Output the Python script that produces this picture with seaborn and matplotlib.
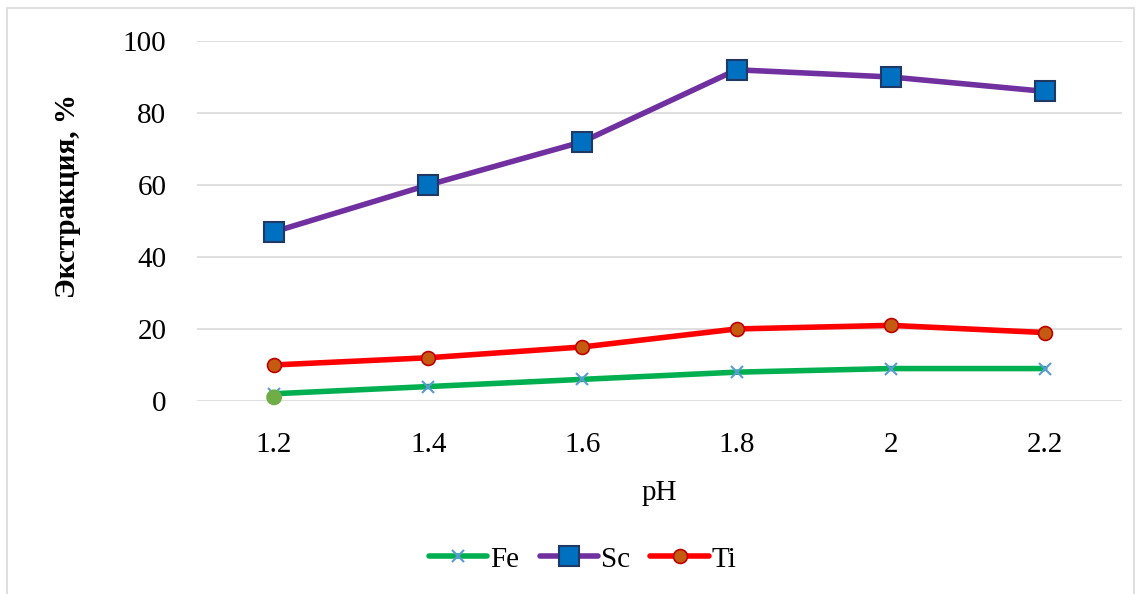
import matplotlib
matplotlib.use("Agg")
import matplotlib.pyplot as plt
import seaborn as sns
import pandas as pd
from matplotlib.patches import Rectangle

ph = ["1.2", "1.4", "1.6", "1.8", "2", "2.2"]
fe = [2, 4, 6, 8, 9, 9]
sc = [47, 60, 72, 92, 90, 86]
ti = [10, 12, 15, 20, 21, 19]
fe_special_x = ["1.2"]
fe_special_y = [1]

sns.set_theme(style="white")
plt.rcParams["font.family"] = ["Liberation Serif", "DejaVu Serif"]
plt.rcParams["text.color"] = "black"
plt.rcParams["axes.labelcolor"] = "black"

fig = plt.figure(figsize=(11.39, 5.94), dpi=100)
ax = fig.add_axes([0.173, 0.325, 0.812, 0.606])

sns.lineplot(x=ph, y=fe, ax=ax, color="#00B050", lw=4, marker="x", markersize=8,
             markeredgecolor="#5B9BD5", markeredgewidth=1.5, label="Fe", sort=False, clip_on=False)
sns.lineplot(x=ph, y=sc, ax=ax, color="#7030A0", lw=4, marker="s", markersize=14,
             markerfacecolor="#0070C0", markeredgecolor="#1F3864", markeredgewidth=1.5,
             label="Sc", sort=False)
sns.lineplot(x=ph, y=ti, ax=ax, color="#FF0000", lw=4, marker="o", markersize=10,
             markerfacecolor="#C55A11", markeredgecolor="#C00000", markeredgewidth=1.2,
             label="Ti", sort=False)
sns.scatterplot(x=fe_special_x, y=fe_special_y, ax=ax, color="#70AD47", s=130,
                edgecolor="none", zorder=5, clip_on=False)

ax.set_xlim(-0.5, 5.5)
ax.set_ylim(0, 100)
ax.set_yticks([0, 20, 40, 60, 80, 100])
ax.yaxis.grid(True, color="#D9D9D9", lw=1.2)
ax.xaxis.grid(False)
ax.set_axisbelow(True)
for s in ["top", "right", "left", "bottom"]:
    ax.spines[s].set_visible(False)
ax.tick_params(axis="both", length=0, labelsize=21, colors="black")
ax.tick_params(axis="x", pad=22)
ax.tick_params(axis="y", pad=22)
ax.set_xlabel("pH", fontsize=21, labelpad=16)
ax.set_ylabel("Экстракция, %", fontsize=21, fontweight="bold")
ax.yaxis.set_label_coords(-0.126, 0.57)

leg = ax.legend(loc="center", bbox_to_anchor=(0.417, -0.44), ncol=3, frameon=False,
                fontsize=21, handlelength=2.0, handletextpad=0.1, columnspacing=0.7,
                borderaxespad=0)
for t in leg.get_texts():
    t.set_color("black")

fig.patches.append(Rectangle((0.006, -0.01), 0.99, 0.997, transform=fig.transFigure,
                             fill=False, edgecolor="#D9D9D9", lw=1.2))
fig.savefig("out.png", dpi=100)
